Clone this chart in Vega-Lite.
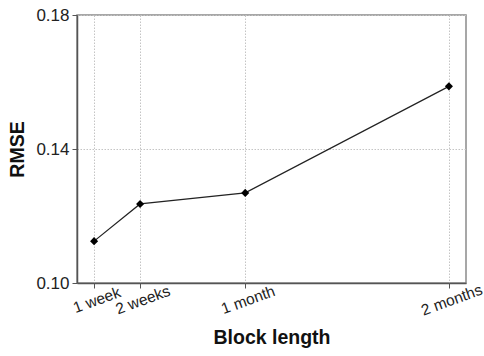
{
  "$schema": "https://vega.github.io/schema/vega-lite/v6.json",
  "autosize": "none",
  "width": 389,
  "height": 268,
  "padding": {"left": 77, "top": 15, "right": 18, "bottom": 73},
  "background": "white",
  "config": {
    "font": "Liberation Sans",
    "view": {"stroke": "#8a8a8a", "strokeWidth": 1.5},
    "axis": {
      "labelFont": "Liberation Sans",
      "titleFont": "Liberation Sans",
      "labelFontSize": 17,
      "labelColor": "#222",
      "titleFontSize": 19.5,
      "titleFontWeight": "bold",
      "titleColor": "#111",
      "domainColor": "#555",
      "domainWidth": 1.5,
      "tickColor": "#555",
      "tickSize": 5,
      "gridColor": "#c4c4c4",
      "gridDash": [1.5, 1.5],
      "gridWidth": 1
    }
  },
  "data": {
    "values": [
      {"block": "1 week", "days": 7, "rmse": 0.1125},
      {"block": "2 weeks", "days": 14, "rmse": 0.1236},
      {"block": "1 month", "days": 30, "rmse": 0.1269},
      {"block": "2 months", "days": 61, "rmse": 0.1587}
    ]
  },
  "encoding": {
    "x": {
      "field": "days",
      "type": "quantitative",
      "scale": {"domain": [4.4, 63.6], "nice": false, "zero": false},
      "axis": {
        "title": "Block length",
        "values": [7, 14, 30, 61],
        "labelExpr": "datum.value == 7 ? '1 week' : datum.value == 14 ? '2 weeks' : datum.value == 30 ? '1 month' : '2 months'",
        "labelFontSize": 15.5,
        "labelAngle": -20,
        "labelAlign": "center",
        "labelBaseline": "top",
        "labelPadding": 5,
        "labelOverlap": false,
        "labelFlush": false,
        "titlePadding": 10
      }
    },
    "y": {
      "field": "rmse",
      "type": "quantitative",
      "scale": {"domain": [0.1, 0.18], "nice": false, "zero": false},
      "axis": {
        "title": "RMSE",
        "values": [0.10, 0.14, 0.18],
        "format": ".2f",
        "labelPadding": 3,
        "titlePadding": 8,
        "labelFlush": false
      }
    }
  },
  "layer": [
    {"mark": {"type": "line", "color": "#222", "strokeWidth": 1.2}},
    {"mark": {"type": "point", "shape": "diamond", "filled": true, "color": "#000", "size": 65, "opacity": 1}}
  ]
}
